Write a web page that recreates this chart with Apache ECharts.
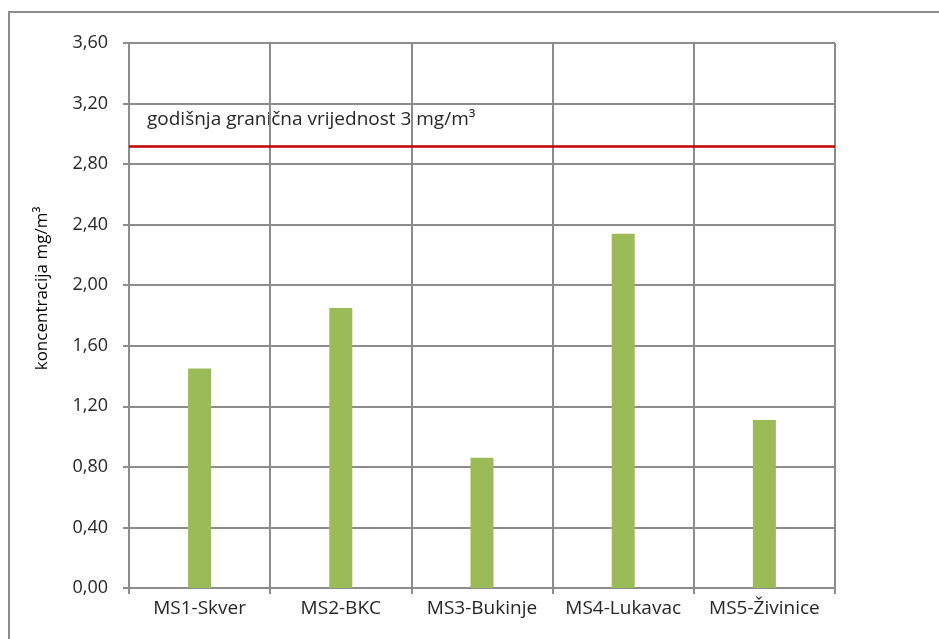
<!DOCTYPE html>
<html><head><meta charset="utf-8">
<script src="https://cdn.jsdelivr.net/npm/echarts@6/dist/echarts.min.js"></script>
<style>html,body{margin:0;padding:0;background:#fff}#c{width:939px;height:639px}</style>
</head><body><div id="c"></div>
<script>
const categories = ['MS1-Skver','MS2-BKC','MS3-Bukinje','MS4-Lukavac','MS5-Živinice'];
const concentrations = [1.45, 1.85, 0.86, 2.34, 1.11];
const limitValue = 2.915;
const limitLabel = 'godišnja granična vrijednost 3 mg/m³';
const yAxisName = 'koncentracija mg/m³';

const FONT = 'Open Sans';
const chart = echarts.init(document.getElementById('c'), null, {renderer:'canvas'});
chart.setOption({
  animation:false,
  backgroundColor:'#fff',
  textStyle:{fontFamily:FONT},
  grid:{left:129,top:43,right:104,bottom:51,containLabel:false},
  graphic:[
    {type:'rect',shape:{x:9,y:12,width:960,height:660},style:{fill:'none',stroke:'#8c8c8c',lineWidth:2},silent:true},
    {type:'text',left:147,top:110,style:{text:limitLabel,fontFamily:FONT,fontSize:19,fill:'#262626'}}
  ],
  xAxis:{
    type:'category',data:categories,boundaryGap:true,
    axisLine:{lineStyle:{color:'#8c8c8c',width:2}},
    axisTick:{show:true,length:6,interval:0,lineStyle:{color:'#8c8c8c',width:2}},
    axisLabel:{color:'#262626',fontSize:19,margin:11,fontFamily:FONT,interval:0},
    splitLine:{show:true,interval:0,lineStyle:{color:'#8c8c8c',width:2}}
  },
  yAxis:{
    type:'value',min:0,max:3.6,interval:0.4,
    name:yAxisName,nameLocation:'middle',nameGap:78,nameRotate:90,
    nameTextStyle:{color:'#000',fontSize:17,fontFamily:FONT,padding:[0,0,0,54]},
    axisLine:{show:true,lineStyle:{color:'#8c8c8c',width:2}},
    axisTick:{show:true,length:6,lineStyle:{color:'#8c8c8c',width:2}},
    axisLabel:{color:'#262626',fontSize:18,margin:21,fontFamily:FONT,
      formatter:v=>v.toFixed(2).replace('.',',')},
    splitLine:{show:true,lineStyle:{color:'#8c8c8c',width:2}}
  },
  series:[{
    type:'bar',data:concentrations,barWidth:23,
    itemStyle:{color:'#9bbb59'},
    markLine:{symbol:'none',silent:true,label:{show:false},
      lineStyle:{color:'#c00000',width:2.5,type:'solid'},
      data:[{yAxis:limitValue}]}
  }]
});
</script></body></html>
